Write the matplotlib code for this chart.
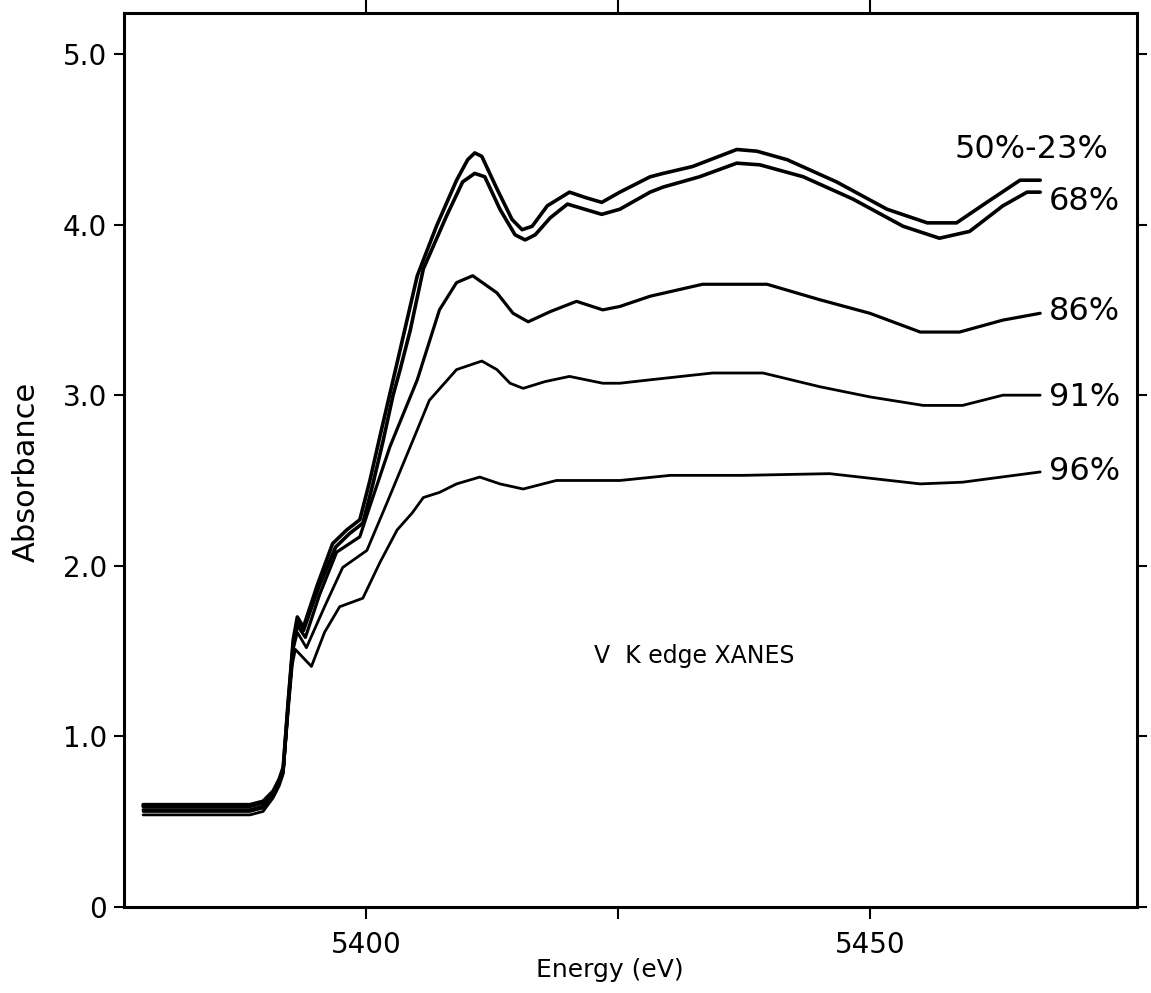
import matplotlib
matplotlib.use("Agg")
import matplotlib.pyplot as plt

# V K-edge XANES, absorbance vs. energy (eV), one trace per sample
energy_50_23 = [5377.9, 5388.5, 5389.8, 5390.8, 5391.4, 5391.8, 5392.3, 5392.8, 5393.2, 5393.8,
                5395.2, 5396.7, 5398.1, 5399.4, 5400.4, 5401.4, 5403.1, 5405.1, 5407.0, 5409.0,
                5410.1, 5410.8, 5411.5, 5413.0, 5414.5, 5415.5, 5416.5, 5418.0, 5420.2, 5421.7,
                5423.4, 5425.2, 5428.2, 5429.5, 5432.4, 5436.8, 5438.8, 5441.8, 5446.7, 5451.7,
                5455.7, 5458.6, 5461.6, 5464.9, 5466.9]
absorb_50_23 = [0.60, 0.60, 0.62, 0.68, 0.75, 0.82, 1.21, 1.57, 1.70, 1.64,
                1.89, 2.13, 2.21, 2.27, 2.50, 2.76, 3.19, 3.70, 3.99, 4.26,
                4.38, 4.42, 4.40, 4.21, 4.03, 3.97, 3.99, 4.11, 4.19, 4.16,
                4.13, 4.19, 4.28, 4.30, 4.34, 4.44, 4.43, 4.38, 4.25, 4.09,
                4.01, 4.01, 4.13, 4.26, 4.26]

energy_68 = [5377.9, 5388.5, 5389.8, 5390.8, 5391.4, 5391.8, 5392.3, 5392.8, 5393.2, 5393.8,
             5395.3, 5397.0, 5398.4, 5399.7, 5400.7, 5401.7, 5402.7, 5403.4, 5404.4, 5405.7,
             5408.0, 5409.6, 5410.8, 5411.8, 5413.3, 5414.8, 5415.8, 5416.8, 5418.3, 5420.0,
             5421.7, 5423.4, 5425.2, 5428.2, 5429.5, 5433.1, 5436.8, 5439.1, 5443.4, 5448.3,
             5453.3, 5456.9, 5459.9, 5463.2, 5465.6, 5466.9]
absorb_68 = [0.59, 0.59, 0.61, 0.67, 0.74, 0.81, 1.20, 1.55, 1.67, 1.62,
             1.87, 2.11, 2.19, 2.25, 2.48, 2.73, 3.00, 3.15, 3.38, 3.74,
             4.05, 4.25, 4.30, 4.28, 4.09, 3.94, 3.91, 3.94, 4.04, 4.12,
             4.09, 4.06, 4.09, 4.19, 4.22, 4.28, 4.36, 4.35, 4.28, 4.15,
             3.99, 3.92, 3.96, 4.11, 4.19, 4.19]

energy_86 = [5377.9, 5388.5, 5389.8, 5390.8, 5391.4, 5391.8, 5392.3, 5392.8, 5393.2, 5394.0,
             5395.4, 5397.1, 5399.4, 5400.4, 5402.4, 5405.1, 5407.3, 5409.0, 5410.6, 5413.0,
             5414.6, 5416.1, 5418.3, 5420.9, 5423.5, 5425.2, 5428.2, 5433.4, 5439.8, 5445.0,
             5450.0, 5455.0, 5458.9, 5463.2, 5466.9]
absorb_86 = [0.57, 0.57, 0.59, 0.66, 0.73, 0.80, 1.19, 1.54, 1.65, 1.58,
             1.83, 2.08, 2.17, 2.35, 2.70, 3.09, 3.50, 3.66, 3.70, 3.60,
             3.48, 3.43, 3.49, 3.55, 3.50, 3.52, 3.58, 3.65, 3.65, 3.56,
             3.48, 3.37, 3.37, 3.44, 3.48]

energy_91 = [5377.9, 5388.5, 5389.8, 5390.8, 5391.4, 5391.8, 5392.3, 5392.8, 5393.2, 5394.1,
             5395.9, 5397.7, 5400.1, 5402.1, 5404.7, 5406.3, 5409.0, 5411.5, 5413.0, 5414.3,
             5415.6, 5417.8, 5420.2, 5423.5, 5425.2, 5428.2, 5434.4, 5439.4, 5445.0, 5450.0,
             5455.3, 5459.2, 5463.2, 5466.9]
absorb_91 = [0.56, 0.56, 0.58, 0.65, 0.72, 0.79, 1.18, 1.51, 1.61, 1.52,
             1.76, 1.99, 2.09, 2.37, 2.74, 2.97, 3.15, 3.20, 3.15, 3.07,
             3.04, 3.08, 3.11, 3.07, 3.07, 3.09, 3.13, 3.13, 3.05, 2.99,
             2.94, 2.94, 3.00, 3.00]

energy_96 = [5377.9, 5388.5, 5389.8, 5390.8, 5391.4, 5391.8, 5392.3, 5392.7, 5393.0, 5394.6,
             5395.9, 5397.4, 5399.7, 5401.4, 5403.1, 5404.6, 5405.7, 5407.3, 5409.0, 5411.3,
             5413.3, 5415.6, 5418.9, 5425.2, 5430.2, 5437.4, 5446.0, 5455.0, 5459.2, 5466.9]
absorb_96 = [0.54, 0.54, 0.56, 0.64, 0.71, 0.78, 1.15, 1.42, 1.51, 1.41,
             1.61, 1.76, 1.81, 2.02, 2.21, 2.31, 2.40, 2.43, 2.48, 2.52,
             2.48, 2.45, 2.50, 2.50, 2.53, 2.53, 2.54, 2.48, 2.49, 2.55]

series_labels = ["50%-23%", "68%", "86%", "91%", "96%"]
x_ticks = [5400, 5425, 5450]
x_tick_labels = ["5400", "", "5450"]
y_ticks = [0, 1, 2, 3, 4, 5]
y_tick_labels = ["0", "1.0", "2.0", "3.0", "4.0", "5.0"]

curves = [
    (energy_50_23, absorb_50_23, 2.6, (-62, 22)),
    (energy_68, absorb_68, 2.6, (6, -7)),
    (energy_86, absorb_86, 2.3, (6, 1)),
    (energy_91, absorb_91, 2.0, (6, -2)),
    (energy_96, absorb_96, 2.0, (6, 0)),
]

fig = plt.figure(figsize=(11.51, 9.93), dpi=100)
ax = fig.add_axes([0.1077, 0.0866, 0.8801, 0.9003])

for (e, a, lw, off), label in zip(curves, series_labels):
    ax.plot(e, a, color="black", lw=lw, solid_joinstyle="round", solid_capstyle="round")
    ax.annotate(label, xy=(e[-1], a[-1]), xytext=off, textcoords="offset points",
                ha="left", va="center", fontsize=23)

ax.text(5432.6, 1.47, "V  K edge XANES", ha="center", va="center", fontsize=17)

ax.set_xlim(5376.0, 5476.5)
ax.set_ylim(0, 5.24)
ax.set_xticks(x_ticks)
ax.set_xticklabels(x_tick_labels)
ax.set_yticks(y_ticks)
ax.set_yticklabels(y_tick_labels)

for s in ax.spines.values():
    s.set_linewidth(2.2)

ax.tick_params(axis="x", direction="out", top=True, bottom=True,
               labeltop=False, labelsize=20, width=1.5, length=8.6, pad=9)
ax.tick_params(axis="y", direction="out", left=True, right=True, labelright=False,
               labelsize=20, width=1.5, length=7, pad=5)
# top ticks run up to the edge of the page
for t in ax.xaxis.get_major_ticks():
    t.tick2line.set_markersize(11)

ax.set_xlabel("Energy (eV)", fontsize=18)
ax.xaxis.set_label_coords(0.48, -0.057)
ax.set_ylabel("Absorbance", fontsize=22)
ax.yaxis.set_label_coords(-0.082, 0.487)

fig.savefig("out.png", dpi=100)
